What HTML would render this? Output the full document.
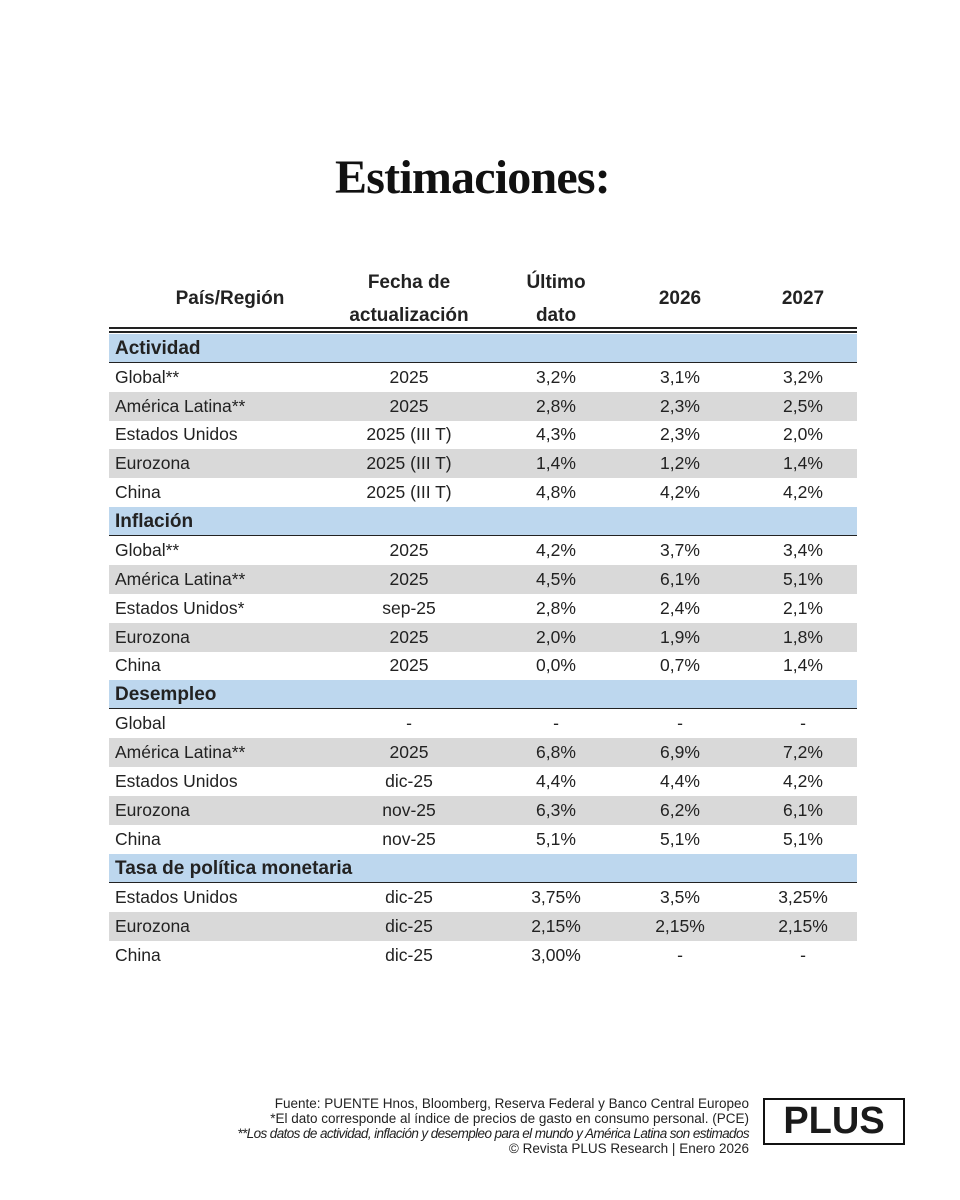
<!DOCTYPE html>
<html><head><meta charset="utf-8"><style>
body{margin:0;width:960px;height:1200px;background:#fff;position:relative;overflow:hidden;font-family:"Liberation Sans",sans-serif;color:#1a1a1a}
.t{position:absolute;left:0;width:945px;top:150px;text-align:center;font-family:"Liberation Serif",serif;font-weight:bold;font-size:48px;letter-spacing:-0.8px;color:#111}
.h{position:absolute;font-weight:bold;font-size:19px;text-align:center;line-height:33px;color:#222}
.r{position:absolute;left:109px;width:748px;height:28.9px;font-size:17.5px;line-height:29px;color:#222}
.r span{position:absolute;top:0;text-align:center;width:130px}
.r .n{left:6px;text-align:left;width:300px}
.g{background:#d9d9d9}
.s{background:#bdd7ee;border-bottom:1.5px solid #222;font-weight:bold;font-size:19px;box-sizing:border-box}
.c1{left:235px}.c2{left:382px}.c3{left:506px}.c4{left:629px}
.f{position:absolute;right:211px;text-align:right;font-size:13.5px;line-height:15px;color:#222;top:1096px}
.logo{position:absolute;left:763px;top:1098px;width:142px;height:47px;border:2.5px solid #111;box-sizing:border-box;font-weight:900;font-size:38px;text-align:center;line-height:43px;letter-spacing:0px}
</style></head><body>
<div class="t">Estimaciones:</div>
<div class="h" style="left:130px;width:200px;top:282px">País/Región</div>
<div class="h" style="left:344px;width:130px;top:266px">Fecha de<br>actualización</div>
<div class="h" style="left:496px;width:120px;top:266px">Último<br>dato</div>
<div class="h" style="left:620px;width:120px;top:282px">2026</div>
<div class="h" style="left:743px;width:120px;top:282px">2027</div>
<div style="position:absolute;left:109px;width:748px;top:327px;height:2px;background:#222"></div>
<div style="position:absolute;left:109px;width:748px;top:331px;height:1.5px;background:#222"></div>

<div class="r s" style="top:334px"><span class="n">Actividad</span></div>
<div class="r" style="top:363px"><span class="n">Global**</span><span class="c1">2025</span><span class="c2">3,2%</span><span class="c3">3,1%</span><span class="c4">3,2%</span></div>
<div class="r g" style="top:392px"><span class="n">América Latina**</span><span class="c1">2025</span><span class="c2">2,8%</span><span class="c3">2,3%</span><span class="c4">2,5%</span></div>
<div class="r" style="top:420px"><span class="n">Estados Unidos</span><span class="c1">2025 (III T)</span><span class="c2">4,3%</span><span class="c3">2,3%</span><span class="c4">2,0%</span></div>
<div class="r g" style="top:449px"><span class="n">Eurozona</span><span class="c1">2025 (III T)</span><span class="c2">1,4%</span><span class="c3">1,2%</span><span class="c4">1,4%</span></div>
<div class="r" style="top:478px"><span class="n">China</span><span class="c1">2025 (III T)</span><span class="c2">4,8%</span><span class="c3">4,2%</span><span class="c4">4,2%</span></div>
<div class="r s" style="top:507px"><span class="n">Inflación</span></div>
<div class="r" style="top:536px"><span class="n">Global**</span><span class="c1">2025</span><span class="c2">4,2%</span><span class="c3">3,7%</span><span class="c4">3,4%</span></div>
<div class="r g" style="top:565px"><span class="n">América Latina**</span><span class="c1">2025</span><span class="c2">4,5%</span><span class="c3">6,1%</span><span class="c4">5,1%</span></div>
<div class="r" style="top:594px"><span class="n">Estados Unidos*</span><span class="c1">sep-25</span><span class="c2">2,8%</span><span class="c3">2,4%</span><span class="c4">2,1%</span></div>
<div class="r g" style="top:623px"><span class="n">Eurozona</span><span class="c1">2025</span><span class="c2">2,0%</span><span class="c3">1,9%</span><span class="c4">1,8%</span></div>
<div class="r" style="top:651px"><span class="n">China</span><span class="c1">2025</span><span class="c2">0,0%</span><span class="c3">0,7%</span><span class="c4">1,4%</span></div>
<div class="r s" style="top:680px"><span class="n">Desempleo</span></div>
<div class="r" style="top:709px"><span class="n">Global</span><span class="c1">-</span><span class="c2">-</span><span class="c3">-</span><span class="c4">-</span></div>
<div class="r g" style="top:738px"><span class="n">América Latina**</span><span class="c1">2025</span><span class="c2">6,8%</span><span class="c3">6,9%</span><span class="c4">7,2%</span></div>
<div class="r" style="top:767px"><span class="n">Estados Unidos</span><span class="c1">dic-25</span><span class="c2">4,4%</span><span class="c3">4,4%</span><span class="c4">4,2%</span></div>
<div class="r g" style="top:796px"><span class="n">Eurozona</span><span class="c1">nov-25</span><span class="c2">6,3%</span><span class="c3">6,2%</span><span class="c4">6,1%</span></div>
<div class="r" style="top:825px"><span class="n">China</span><span class="c1">nov-25</span><span class="c2">5,1%</span><span class="c3">5,1%</span><span class="c4">5,1%</span></div>
<div class="r s" style="top:854px"><span class="n">Tasa de política monetaria</span></div>
<div class="r" style="top:883px"><span class="n">Estados Unidos</span><span class="c1">dic-25</span><span class="c2">3,75%</span><span class="c3">3,5%</span><span class="c4">3,25%</span></div>
<div class="r g" style="top:912px"><span class="n">Eurozona</span><span class="c1">dic-25</span><span class="c2">2,15%</span><span class="c3">2,15%</span><span class="c4">2,15%</span></div>
<div class="r" style="top:941px"><span class="n">China</span><span class="c1">dic-25</span><span class="c2">3,00%</span><span class="c3">-</span><span class="c4">-</span></div>

<div class="f">Fuente: PUENTE Hnos, Bloomberg, Reserva Federal y Banco Central Europeo<br>*El dato corresponde al índice de precios de gasto en consumo personal. (PCE)<br><i style="letter-spacing:-0.6px">**Los datos de actividad, inflación y desempleo para el mundo y América Latina son estimados</i><br>© Revista PLUS Research | Enero 2026</div>
<div class="logo">PLUS</div>
</body></html>
